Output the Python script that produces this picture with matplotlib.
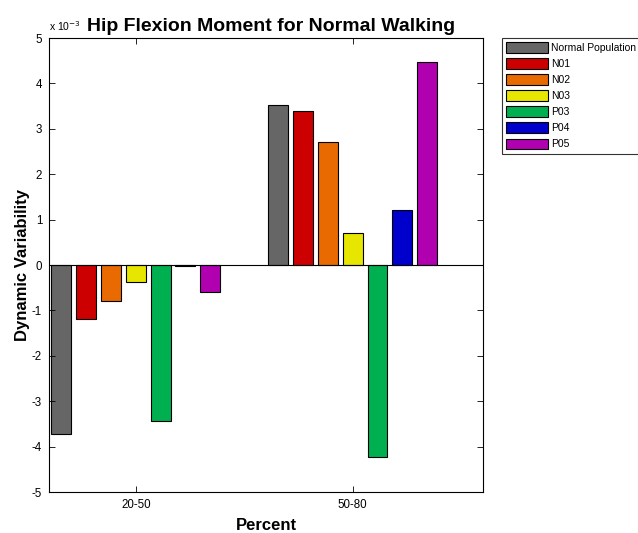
import numpy as np
import matplotlib
matplotlib.use('Agg')
import matplotlib.pyplot as plt
from matplotlib.patches import Patch

plt.rcParams['font.family'] = ['Liberation Sans', 'DejaVu Sans']
plt.rcParams['axes.unicode_minus'] = False

# Dynamic variability, in units of 1e-3
groups = ['20-50', '50-80']
series = ['Normal Population', 'N01', 'N02', 'N03', 'P03', 'P04', 'P05']
normal_pop = [-3.72, 3.52]
n01 = [-1.19, 3.39]
n02 = [-0.79, 2.71]
n03 = [-0.37, 0.70]
p03 = [-3.44, -4.23]
p04 = [-0.03, 1.21]
p05 = [-0.60, 4.47]
values = [normal_pop, n01, n02, n03, p03, p04, p05]

colors = ['#666666', '#cc0000', '#e86a00', '#e6e600', '#00b050', '#0000cc', '#b000b0']

fig = plt.figure(figsize=(6.38, 5.33), dpi=100)
ax = fig.add_axes([0.0768, 0.0769, 0.6802, 0.8518])

x = np.arange(1, len(groups) + 1)
n = len(series)
step = 0.8 / n
width = step * 0.8
for i, (vals, c) in enumerate(zip(values, colors)):
    off = (i - (n - 1) / 2) * step
    ax.bar(x + off, vals, width, color=c, edgecolor='black', linewidth=0.8)

ax.axhline(0, color='black', linewidth=0.8)
ax.set_xlim(0.6, 2.6)
ax.set_ylim(-5, 5)
ax.set_xticks(x)
ax.set_xticklabels(groups)
ax.set_yticks(np.arange(-5, 6, 1))
ax.tick_params(direction='in', top=True, right=True, length=4, width=0.6,
               labelsize=8.3, pad=5)
for s in ax.spines.values():
    s.set_linewidth(0.8)

ax.set_title('Hip Flexion Moment for Normal Walking', fontsize=14, fontweight='bold',
             pad=5, x=0.512)
ax.set_xlabel('Percent', fontsize=12, fontweight='bold', labelpad=5)
ax.set_ylabel('Dynamic Variability', fontsize=12, fontweight='bold', labelpad=1)
ax.text(0.0, 1.012, 'x 10$^{-3}$', transform=ax.transAxes, fontsize=7.5,
        ha='left', va='bottom')

handles = [Patch(facecolor=c, edgecolor='black', linewidth=0.8) for c in colors]
leg = ax.legend(handles, series, loc='upper left',
                bbox_to_anchor=(502 / 638, 495 / 533), bbox_transform=fig.transFigure,
                fontsize=7.5, frameon=True, fancybox=False, edgecolor='black',
                handlelength=4.0, handleheight=1.2, labelspacing=0.5,
                handletextpad=0.3, borderpad=0.4, borderaxespad=0)
leg.get_frame().set_linewidth(0.8)

fig.savefig('out.png', dpi=100)
